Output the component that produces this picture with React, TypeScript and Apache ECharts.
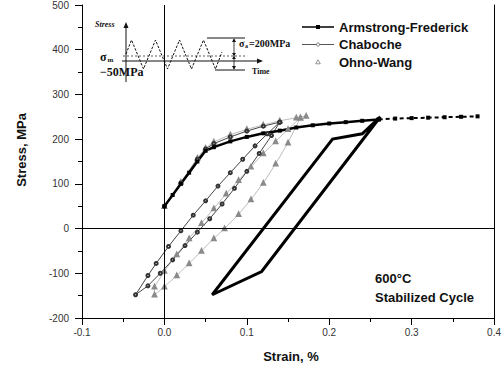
import React, { useEffect, useRef } from "react";
import * as echarts from "echarts";

// Axis ranges and tick steps
const xRange = [-0.1, 0.4];
const yRange = [-200, 500];
const xStep = 0.1;
const yStep = 100;

// Armstrong-Frederick: monotonic loading, its continuation and the stabilized loop
const afMonotonic = [
  [0.0, 50], [0.01, 75], [0.02, 100], [0.03, 125], [0.04, 150], [0.05, 174],
  [0.06, 182], [0.08, 195], [0.1, 205], [0.12, 213], [0.14, 219], [0.16, 226],
  [0.18, 231], [0.2, 235], [0.22, 238], [0.24, 241], [0.26, 244],
];
const afTail = [
  [0.26, 244], [0.28, 246], [0.3, 247], [0.32, 248], [0.34, 249], [0.36, 250], [0.38, 251],
];
const afLoop = [
  [0.262, 250], [0.118, -96], [0.058, -148], [0.204, 200], [0.24, 212], [0.262, 250],
];

// Chaboche: monotonic loading and stabilized loop
const chabocheMonotonic = [
  [0.0, 50], [0.02, 102], [0.04, 155], [0.05, 178], [0.06, 190], [0.08, 205],
  [0.1, 218], [0.12, 229], [0.14, 238],
];
const chabocheLoop = [
  [0.14, 238], [0.125, 212], [0.11, 185], [0.095, 155], [0.08, 125], [0.065, 95],
  [0.05, 62], [0.035, 30], [0.02, -5], [0.005, -40], [-0.01, -78], [-0.02, -105],
  [-0.035, -148],
  [-0.02, -128], [-0.005, -100], [0.01, -70], [0.025, -38], [0.04, -8], [0.055, 22],
  [0.07, 55], [0.085, 90], [0.1, 128], [0.115, 168], [0.13, 208], [0.14, 238],
];

// Ohno-Wang: monotonic loading and stabilized loop
const ohnoWangMonotonic = [
  [0.0, 50], [0.02, 104], [0.04, 158], [0.05, 180], [0.06, 194], [0.08, 210],
  [0.1, 222], [0.12, 232], [0.14, 241], [0.16, 248], [0.172, 252],
];
const ohnoWangLoop = [
  [0.165, 248], [0.15, 222], [0.135, 195], [0.12, 168], [0.105, 138], [0.09, 108],
  [0.075, 78], [0.06, 45], [0.045, 12], [0.03, -22], [0.015, -58], [0.0, -95],
  [-0.012, -130], [-0.012, -148],
  [0.0, -130], [0.015, -105], [0.03, -78], [0.045, -50], [0.06, -22], [0.073, 0],
  [0.09, 32], [0.105, 65], [0.12, 102], [0.135, 145], [0.15, 192], [0.165, 248],
];

const legendNames = ["Armstrong-Frederick", "Chaboche", "Ohno-Wang"];
const noteLines = ["600\u00B0C", "Stabilized Cycle"];

const SANS = "'Liberation Sans', Arial, sans-serif";
const SERIF = "'Liberation Serif', 'Times New Roman', serif";

function buildGraphic() {
  const ink = "#111";
  const els: any[] = [];
  // inset: loading history sketch
  els.push({ type: "line", shape: { x1: 126, y1: 82, x2: 126, y2: 25 }, style: { stroke: ink, lineWidth: 1 } });
  els.push({ type: "polygon", shape: { points: [[123.5, 28], [128.5, 28], [126, 22]] }, style: { fill: ink } });
  els.push({ type: "line", shape: { x1: 122, y1: 61, x2: 259, y2: 61 }, style: { stroke: ink, lineWidth: 1 } });
  els.push({ type: "polygon", shape: { points: [[257, 58.5], [257, 63.5], [263, 61]] }, style: { fill: ink } });
  els.push({ type: "line", shape: { x1: 123, y1: 56, x2: 245, y2: 56 }, style: { stroke: "#333", lineWidth: 0.8, lineDash: [2, 2] } });
  els.push({
    type: "polyline",
    shape: {
      points: [[126, 54], [131.5, 40], [143.5, 69], [155.5, 40], [167.5, 69], [179.5, 40],
        [191.5, 69], [203.5, 40], [215.5, 69], [222, 52]],
    },
    style: { stroke: ink, lineWidth: 1, lineDash: [2.5, 1.5], fill: null },
  });
  els.push({ type: "line", shape: { x1: 207, y1: 38, x2: 245, y2: 38 }, style: { stroke: ink, lineWidth: 1 } });
  els.push({ type: "line", shape: { x1: 215, y1: 70, x2: 245, y2: 70 }, style: { stroke: ink, lineWidth: 1 } });
  els.push({ type: "line", shape: { x1: 234, y1: 39, x2: 234, y2: 69 }, style: { stroke: ink, lineWidth: 0.8 } });
  els.push({ type: "polygon", shape: { points: [[232, 42], [236, 42], [234, 38.5]] }, style: { fill: ink } });
  els.push({ type: "polygon", shape: { points: [[232, 53], [236, 53], [234, 56]] }, style: { fill: ink } });
  els.push({ type: "polygon", shape: { points: [[232, 59], [236, 59], [234, 56]] }, style: { fill: ink } });
  els.push({ type: "polygon", shape: { points: [[232, 66], [236, 66], [234, 69.5]] }, style: { fill: ink } });
  els.push({ type: "text", x: 95, y: 24, style: { text: "Stress", font: `italic bold 8px ${SERIF}`, fill: ink, textVerticalAlign: "middle" } });
  els.push({ type: "text", x: 252, y: 71, style: { text: "Time", font: `bold 8px ${SERIF}`, fill: ink, textVerticalAlign: "middle" } });
  els.push({ type: "text", x: 100, y: 57, style: { text: "\u03C3", font: `bold 12px ${SERIF}`, fill: ink, textVerticalAlign: "middle" } });
  els.push({ type: "text", x: 107.5, y: 60, style: { text: "m", font: `bold 7px ${SERIF}`, fill: ink, textVerticalAlign: "middle" } });
  els.push({ type: "text", x: 100, y: 72, style: { text: "\u221250MPa", font: `bold 12px ${SERIF}`, fill: ink, textVerticalAlign: "middle" } });
  els.push({ type: "text", x: 239, y: 43, style: { text: "\u03C3", font: `bold 10px ${SERIF}`, fill: ink, textVerticalAlign: "middle" } });
  els.push({ type: "text", x: 245, y: 46, style: { text: "a", font: `bold 6px ${SERIF}`, fill: ink, textVerticalAlign: "middle" } });
  els.push({ type: "text", x: 249, y: 43, style: { text: "=200MPa", font: `bold 10px ${SERIF}`, fill: ink, textVerticalAlign: "middle" } });

  // legend
  const rows = [27, 44.5, 62];
  els.push({ type: "line", shape: { x1: 302, y1: rows[0], x2: 334, y2: rows[0] }, style: { stroke: "#000", lineWidth: 1.5 } });
  els.push({ type: "rect", shape: { x: 316, y: rows[0] - 2, width: 4, height: 4 }, style: { fill: "#000" } });
  els.push({ type: "line", shape: { x1: 302, y1: rows[1], x2: 334, y2: rows[1] }, style: { stroke: "#555", lineWidth: 1 } });
  els.push({ type: "circle", shape: { cx: 318, cy: rows[1], r: 1.6 }, style: { fill: "#fff", stroke: "#555", lineWidth: 0.8 } });
  els.push({ type: "polygon", shape: { points: [[318, rows[2] - 2.2], [320.3, rows[2] + 1.8], [315.7, rows[2] + 1.8]] }, style: { fill: "#fff", stroke: "#777", lineWidth: 0.8 } });
  legendNames.forEach((name, i) => {
    els.push({ type: "text", x: 339, y: rows[i], style: { text: name, font: `bold 13px ${SANS}`, fill: "#111", textVerticalAlign: "middle" } });
  });

  // condition note
  noteLines.forEach((t, i) => {
    els.push({ type: "text", x: 375, y: 278 + i * 19, style: { text: t, font: `bold 13px ${SANS}`, fill: "#111", textVerticalAlign: "middle" } });
  });

  // axis titles
  els.push({ type: "text", x: 21, y: 150, rotation: Math.PI / 2, style: { text: "Stress, MPa", font: `bold 13px ${SANS}`, fill: "#111", textAlign: "center", textVerticalAlign: "middle" } });
  els.push({ type: "text", x: 291, y: 356, style: { text: "Strain, %", font: `bold 13px ${SANS}`, fill: "#111", textAlign: "center", textVerticalAlign: "middle" } });
  return els;
}

export default function App() {
  const ref = useRef<HTMLDivElement>(null);
  useEffect(() => {
    if (!ref.current) return;
    const chart = echarts.init(ref.current, undefined, { renderer: "svg" });
    const axisLabel = { color: "#333", fontSize: 10, fontFamily: SANS };
    const ohnoStyle = {
      type: "line",
      lineStyle: { color: "#a0a0a0", width: 0.7 },
      symbol: "emptyTriangle",
      symbolSize: 3.5,
      itemStyle: { color: "#8a8a8a", borderWidth: 0.7 },
      silent: true,
    };
    const chabocheStyle = {
      type: "line",
      lineStyle: { color: "#444", width: 1 },
      symbol: "emptyCircle",
      symbolSize: 3,
      itemStyle: { color: "#333", borderWidth: 0.9 },
      silent: true,
    };
    chart.setOption({
      animation: false,
      backgroundColor: "#fff",
      grid: { left: 82, right: 3, top: 5, bottom: 47 },
      xAxis: {
        type: "value",
        min: xRange[0],
        max: xRange[1],
        interval: xStep,
        axisLine: { show: true, lineStyle: { color: "#000", width: 1 }, onZero: false },
        axisTick: { show: true, inside: false, length: 7, lineStyle: { color: "#000" } },
        minorTick: { show: true, splitNumber: 2, length: 4, lineStyle: { color: "#000" } },
        splitLine: { show: false },
        axisLabel: { ...axisLabel, margin: 9, formatter: (v: number) => v.toFixed(1) },
      },
      yAxis: [
        {
          type: "value",
          min: yRange[0],
          max: yRange[1],
          interval: yStep,
          axisLine: { show: true, lineStyle: { color: "#000", width: 1 }, onZero: false },
          axisTick: { show: true, inside: false, length: 7, lineStyle: { color: "#000" } },
          minorTick: { show: true, splitNumber: 2, length: 4, lineStyle: { color: "#000" } },
          splitLine: { show: false },
          axisLabel: { ...axisLabel, margin: 13 },
        },
        {
          type: "value",
          position: "right",
          min: yRange[0],
          max: yRange[1],
          interval: yStep,
          axisLine: { show: true, lineStyle: { color: "#000", width: 1 }, onZero: false },
          axisTick: { show: false },
          axisLabel: { show: false },
          splitLine: { show: false },
        },
      ],
      series: [
        {
          name: "Ohno-Wang monotonic",
          data: ohnoWangMonotonic,
          ...ohnoStyle,
          markLine: {
            silent: true,
            symbol: "none",
            label: { show: false },
            lineStyle: { color: "#000", width: 1, type: "solid" },
            data: [{ xAxis: 0 }, { yAxis: 0 }],
          },
        },
        { name: "Ohno-Wang", data: ohnoWangLoop, ...ohnoStyle },
        { name: "Chaboche monotonic", data: chabocheMonotonic, ...chabocheStyle },
        { name: "Chaboche", data: chabocheLoop, ...chabocheStyle },
        {
          name: "Armstrong-Frederick",
          type: "line",
          data: afMonotonic,
          lineStyle: { color: "#000", width: 2.5 },
          symbol: "rect",
          symbolSize: 4,
          itemStyle: { color: "#000" },
          silent: true,
        },
        {
          name: "Armstrong-Frederick extension",
          type: "line",
          data: afTail,
          lineStyle: { color: "#000", width: 2, type: [4, 3] },
          symbol: "rect",
          symbolSize: 4,
          itemStyle: { color: "#000" },
          silent: true,
        },
        {
          name: "Armstrong-Frederick loop",
          type: "line",
          data: afLoop,
          lineStyle: { color: "#000", width: 3, join: "miter" },
          symbol: "none",
          silent: true,
        },
      ],
      graphic: buildGraphic(),
    });
    return () => chart.dispose();
  }, []);
  return (
    <div
      ref={ref}
      style={{ position: "fixed", left: 0, top: 0, width: 504, height: 365, background: "#fff" }}
    />
  );
}
